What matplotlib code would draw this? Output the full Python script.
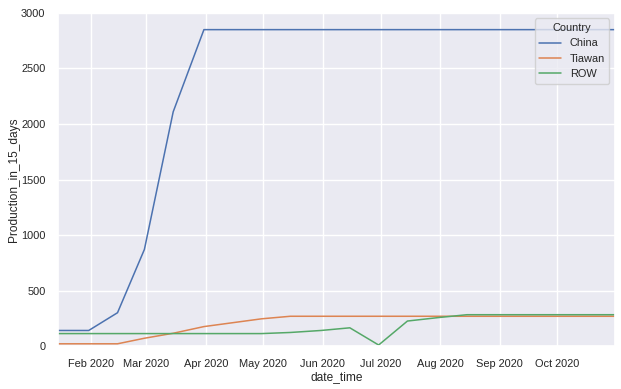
import numpy as np
import pandas as pd
import matplotlib
matplotlib.use("Agg")
import matplotlib.pyplot as plt
import matplotlib.dates as mdates
import seaborn as sns

# semi-monthly period ends (15th and last day of month)
dates = pd.to_datetime([
    "2020-01-15", "2020-01-31", "2020-02-15", "2020-02-29",
    "2020-03-15", "2020-03-31", "2020-04-15", "2020-04-30",
    "2020-05-15", "2020-05-31", "2020-06-15", "2020-06-30",
    "2020-07-15", "2020-07-31", "2020-08-15", "2020-08-31",
    "2020-09-15", "2020-09-30", "2020-10-15", "2020-10-31",
])
china = [140, 140, 300, 870, 2110, 2850, 2850, 2850, 2850, 2850,
         2850, 2850, 2850, 2850, 2850, 2850, 2850, 2850, 2850, 2850]
tiawan = [20, 20, 20, 70, 115, 175, 210, 245, 268, 268,
          268, 268, 268, 268, 268, 268, 268, 268, 268, 268]
row = [112, 112, 112, 112, 112, 112, 112, 112, 122, 140,
       164, 9, 225, 256, 282, 282, 282, 282, 282, 282]
countries = ["China", "Tiawan", "ROW"]

df = pd.DataFrame({
    "date_time": np.tile(dates, 3),
    "Production_in_15_days": china + tiawan + row,
    "Country": np.repeat(countries, len(dates)),
})

sns.set_theme(style="darkgrid")
plt.rcParams["font.family"] = ["Liberation Sans", "DejaVu Sans"]
plt.rcParams["xtick.labelsize"] = 7.9
plt.rcParams["ytick.labelsize"] = 7.9
plt.rcParams["axes.labelsize"] = 8.6
plt.rcParams["legend.fontsize"] = 7.9
plt.rcParams["legend.title_fontsize"] = 7.9

fig, ax = plt.subplots(figsize=(6.21, 3.89), dpi=100)
fig.subplots_adjust(left=0.0934, right=0.990, top=0.9666, bottom=0.1105)

sns.lineplot(data=df, x="date_time", y="Production_in_15_days",
             hue="Country", ax=ax, linewidth=1.1)

ax.set_xlim(dates[0], dates[-1])
ax.set_ylim(0, 3000)
ax.xaxis.set_major_locator(mdates.MonthLocator())
ax.xaxis.set_major_formatter(mdates.DateFormatter("%b %Y"))
ax.tick_params(axis="both", pad=3)
ax.set_xlabel("date_time", labelpad=2)
ax.set_ylabel("Production_in_15_days", labelpad=1)
ax.legend(title="Country", loc="upper right")

fig.savefig("out.png", dpi=100)
